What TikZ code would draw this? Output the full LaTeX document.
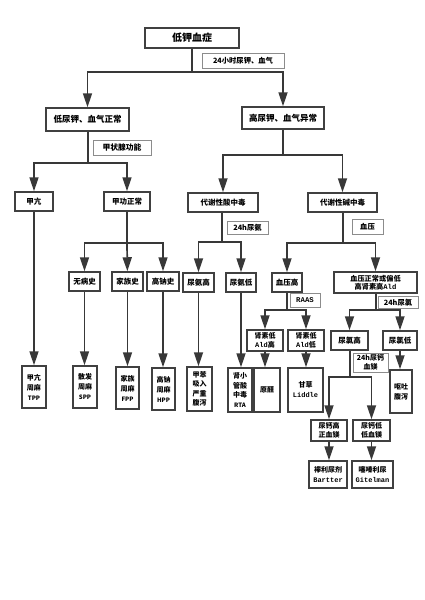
\documentclass[tikz,border=0pt]{standalone}
\usepackage{fontspec}
\setmainfont{Noto Sans CJK SC}
\setmonofont{Liberation Mono}
\usetikzlibrary{arrows.meta}
\begin{document}
\begin{tikzpicture}[x=1pt,y=-1pt,
 box/.style={draw=black!75, line width=1.5pt, fill=white, inner sep=0pt, align=center, font=\fontsize{7.5}{9.5}\selectfont\bfseries},
 tall/.style={box, font=\fontsize{7}{10}\selectfont\bfseries},
 lab/.style={draw=black!45, line width=0.8pt, fill=white, inner sep=0pt, align=center, font=\fontsize{7.3}{8.5}\selectfont\bfseries},
 ln/.style={draw=black!78, line width=1.7pt},
 arr/.style={ln, -{Triangle[length=14pt,width=9pt]}},
]
\useasboundingbox[fill=white] (0,0) rectangle (424,600);

% level 0
\node[box, minimum width=94pt, minimum height=20pt, font=\fontsize{10}{12}\selectfont\bfseries] (root) at (192,38) {低钾血症};
\node[lab, minimum width=82pt, minimum height=15pt] (lab1) at (243,60.5) {24小时尿钾、血气};

% level 1
\node[box, minimum width=83pt, minimum height=23pt, font=\fontsize{8.5}{10}\selectfont\bfseries] (L1) at (87.5,119.5) {低尿钾、血气正常};
\node[box, minimum width=82pt, minimum height=22pt, font=\fontsize{8.5}{10}\selectfont\bfseries] (R1) at (283,118) {高尿钾、血气异常};
\node[lab, minimum width=58pt, minimum height=15pt, font=\fontsize{7.8}{9}\selectfont\bfseries] (lab2) at (122,147.5) {甲状腺功能};

% level 2
\node[box, minimum width=38pt, minimum height=19pt] (jk) at (34,201.5) {甲亢};
\node[box, minimum width=46pt, minimum height=19pt] (jgzc) at (127,201.5) {甲功正常};
\node[box, minimum width=70pt, minimum height=19pt] (acid) at (223,202.5) {代谢性酸中毒};
\node[box, minimum width=69pt, minimum height=19pt] (alk) at (342.5,202.5) {代谢性碱中毒};
\node[lab, minimum width=41pt, minimum height=13pt] (lab3) at (247.5,228) {24h尿氨};
\node[lab, minimum width=31pt, minimum height=15pt] (lab4) at (367.5,226.5) {血压};

% level 3
\node[box, minimum width=31pt, minimum height=19pt] (wbs) at (84.5,281.5) {无病史};
\node[box, minimum width=31pt, minimum height=19pt] (jzs) at (127.5,281.5) {家族史};
\node[box, minimum width=32pt, minimum height=19pt] (gns) at (163,281.5) {高钠史};
\node[box, minimum width=31pt, minimum height=19pt] (nah) at (198.5,282.5) {尿氨高};
\node[box, minimum width=30pt, minimum height=19pt] (nal) at (241,282.5) {尿氨低};
\node[box, minimum width=30pt, minimum height=19pt] (bph) at (287,282.5) {血压高};
\node[box, minimum width=83pt, minimum height=21pt, font=\fontsize{7.2}{8.5}\selectfont\bfseries] (bpn) at (375.5,282.5) {血压正常或偏低\\高肾素高{\ttfamily Ald}};
\node[lab, minimum width=30pt, minimum height=14pt] (lab5) at (305,300) {{\ttfamily RAAS}};
\node[lab, minimum width=40pt, minimum height=12pt] (lab6) at (398,302.5) {24h尿氯};

% level 4
\node[box, minimum width=36pt, minimum height=21pt, font=\fontsize{7}{8.5}\selectfont\bfseries] (rla) at (265,340.5) {肾素低\\{\ttfamily Ald}高};
\node[box, minimum width=36pt, minimum height=21pt, font=\fontsize{7}{8.5}\selectfont\bfseries] (rll) at (306,340.5) {肾素低\\{\ttfamily Ald}低};
\node[box, minimum width=37pt, minimum height=19pt] (clh) at (349.5,340.5) {尿氯高};
\node[box, minimum width=34pt, minimum height=19pt] (cll) at (400,340.5) {尿氯低};
\node[lab, minimum width=35pt, minimum height=19pt, font=\fontsize{7}{8.5}\selectfont\bfseries] (lab7) at (370.5,362.5) {24h尿钙\\血镁};

% bottom row
\node[tall, minimum width=24pt, minimum height=42pt] (tpp) at (34,387) {甲亢\\周麻\\{\fontsize{6}{8}\selectfont TPP}};
\node[tall, minimum width=24pt, minimum height=42pt] (spp) at (85,387) {散发\\周麻\\{\fontsize{6}{8}\selectfont SPP}};
\node[tall, minimum width=23pt, minimum height=42pt] (fpp) at (127.5,388) {家族\\周麻\\{\fontsize{6}{8}\selectfont FPP}};
\node[tall, minimum width=23pt, minimum height=42pt] (hpp) at (163.5,389) {高钠\\周麻\\{\fontsize{6}{8}\selectfont HPP}};
\node[tall, minimum width=25pt, minimum height=44pt, font=\fontsize{7}{9.5}\selectfont\bfseries] (tol) at (199.5,389) {甲苯\\吸入\\严重\\腹泻};
\node[tall, minimum width=24pt, minimum height=44pt, font=\fontsize{7}{9.5}\selectfont\bfseries] (rta) at (240,390) {肾小\\管酸\\中毒\\{\fontsize{6}{8}\selectfont RTA}};
\node[tall, minimum width=26pt, minimum height=44pt] (ald) at (267,390) {原醛};
\node[tall, minimum width=35pt, minimum height=44pt] (lid) at (305.5,390) {甘草\\{\ttfamily Liddle}};
\node[tall, minimum width=22pt, minimum height=43pt] (vom) at (401,391.5) {呕吐\\腹泻};
\node[box, minimum width=36pt, minimum height=21pt, font=\fontsize{7}{8.5}\selectfont\bfseries] (cah) at (329,430.5) {尿钙高\\正血镁};
\node[box, minimum width=37pt, minimum height=21pt, font=\fontsize{7}{8.5}\selectfont\bfseries] (cal) at (371.5,430.5) {尿钙低\\低血镁};
\node[box, minimum width=38pt, minimum height=27pt, font=\fontsize{7}{10}\selectfont\bfseries] (bart) at (328,474.5) {襻利尿剂\\{\ttfamily Bartter}};
\node[box, minimum width=41pt, minimum height=27pt, font=\fontsize{7}{10}\selectfont\bfseries] (git) at (372.5,474.5) {噻嗪利尿\\{\ttfamily Gitelman}};

% split points
\coordinate (s0) at (192,72);
\coordinate (s1) at (88,163);
\coordinate (s2) at (283,155);
\coordinate (s3) at (127,243);
\coordinate (s4) at (222,242);
\coordinate (s5) at (343,243);
\coordinate (s6) at (287,310);
\coordinate (s7) at (376,310);
\coordinate (s8) at (350,377);

\draw[ln] (root.south) -- (s0);
\draw[arr] (s0) -| (L1);
\draw[arr] (s0) -| (R1);
\draw[ln] (L1.south -| s1) -- (s1);
\draw[arr] (s1) -| (jk);
\draw[arr] (s1) -| (jgzc);
\draw[ln] (R1.south) -- (s2);
\draw[arr] (s2) -| (acid);
\draw[arr] (s2) -| (alk);
\draw[ln] (jgzc.south) -- (s3);
\draw[arr] (s3) -| (wbs);
\draw[arr] (s3) -- (jzs);
\draw[arr] (s3) -| (gns);
\draw[ln] (acid.south -| s4) -- (s4);
\draw[arr] (s4) -| (nah);
\draw[arr] (s4) -| (nal);
\draw[ln] (alk.south -| s5) -- (s5);
\draw[arr] (s5) -| (bph);
\draw[arr] (s5) -| (bpn);
\draw[ln] (bph.south) -- (s6);
\draw[arr] (s6) -| (rla);
\draw[arr] (s6) -| (rll);
\draw[ln] (bpn.south -| s7) -- (s7);
\draw[arr] (s7) -| (clh);
\draw[arr] (s7) -| (cll);
\draw[ln] (clh.south -| s8) -- (s8);
\draw[arr] (s8) -| (cah);
\draw[arr] (s8) -| (cal);

\draw[arr] (jk.south) -- (jk.south |- tpp.north);
\draw[arr] (wbs.south) -- (wbs.south |- spp.north);
\draw[arr] (jzs.south) -- (jzs.south |- fpp.north);
\draw[arr] (gns.south) -- (gns.south |- hpp.north);
\draw[arr] (nah.south) -- (nah.south |- tol.north);
\draw[arr] (nal.south) -- (nal.south |- rta.north);
\draw[arr] (rla.south) -- (rla.south |- ald.north);
\draw[arr] (rll.south) -- (rll.south |- lid.north);
\draw[arr] (cll.south) -- (cll.south |- vom.north);
\draw[arr] (cah.south) -- (cah.south |- bart.north);
\draw[arr] (cal.south) -- (cal.south |- git.north);
\end{tikzpicture}
\end{document}
